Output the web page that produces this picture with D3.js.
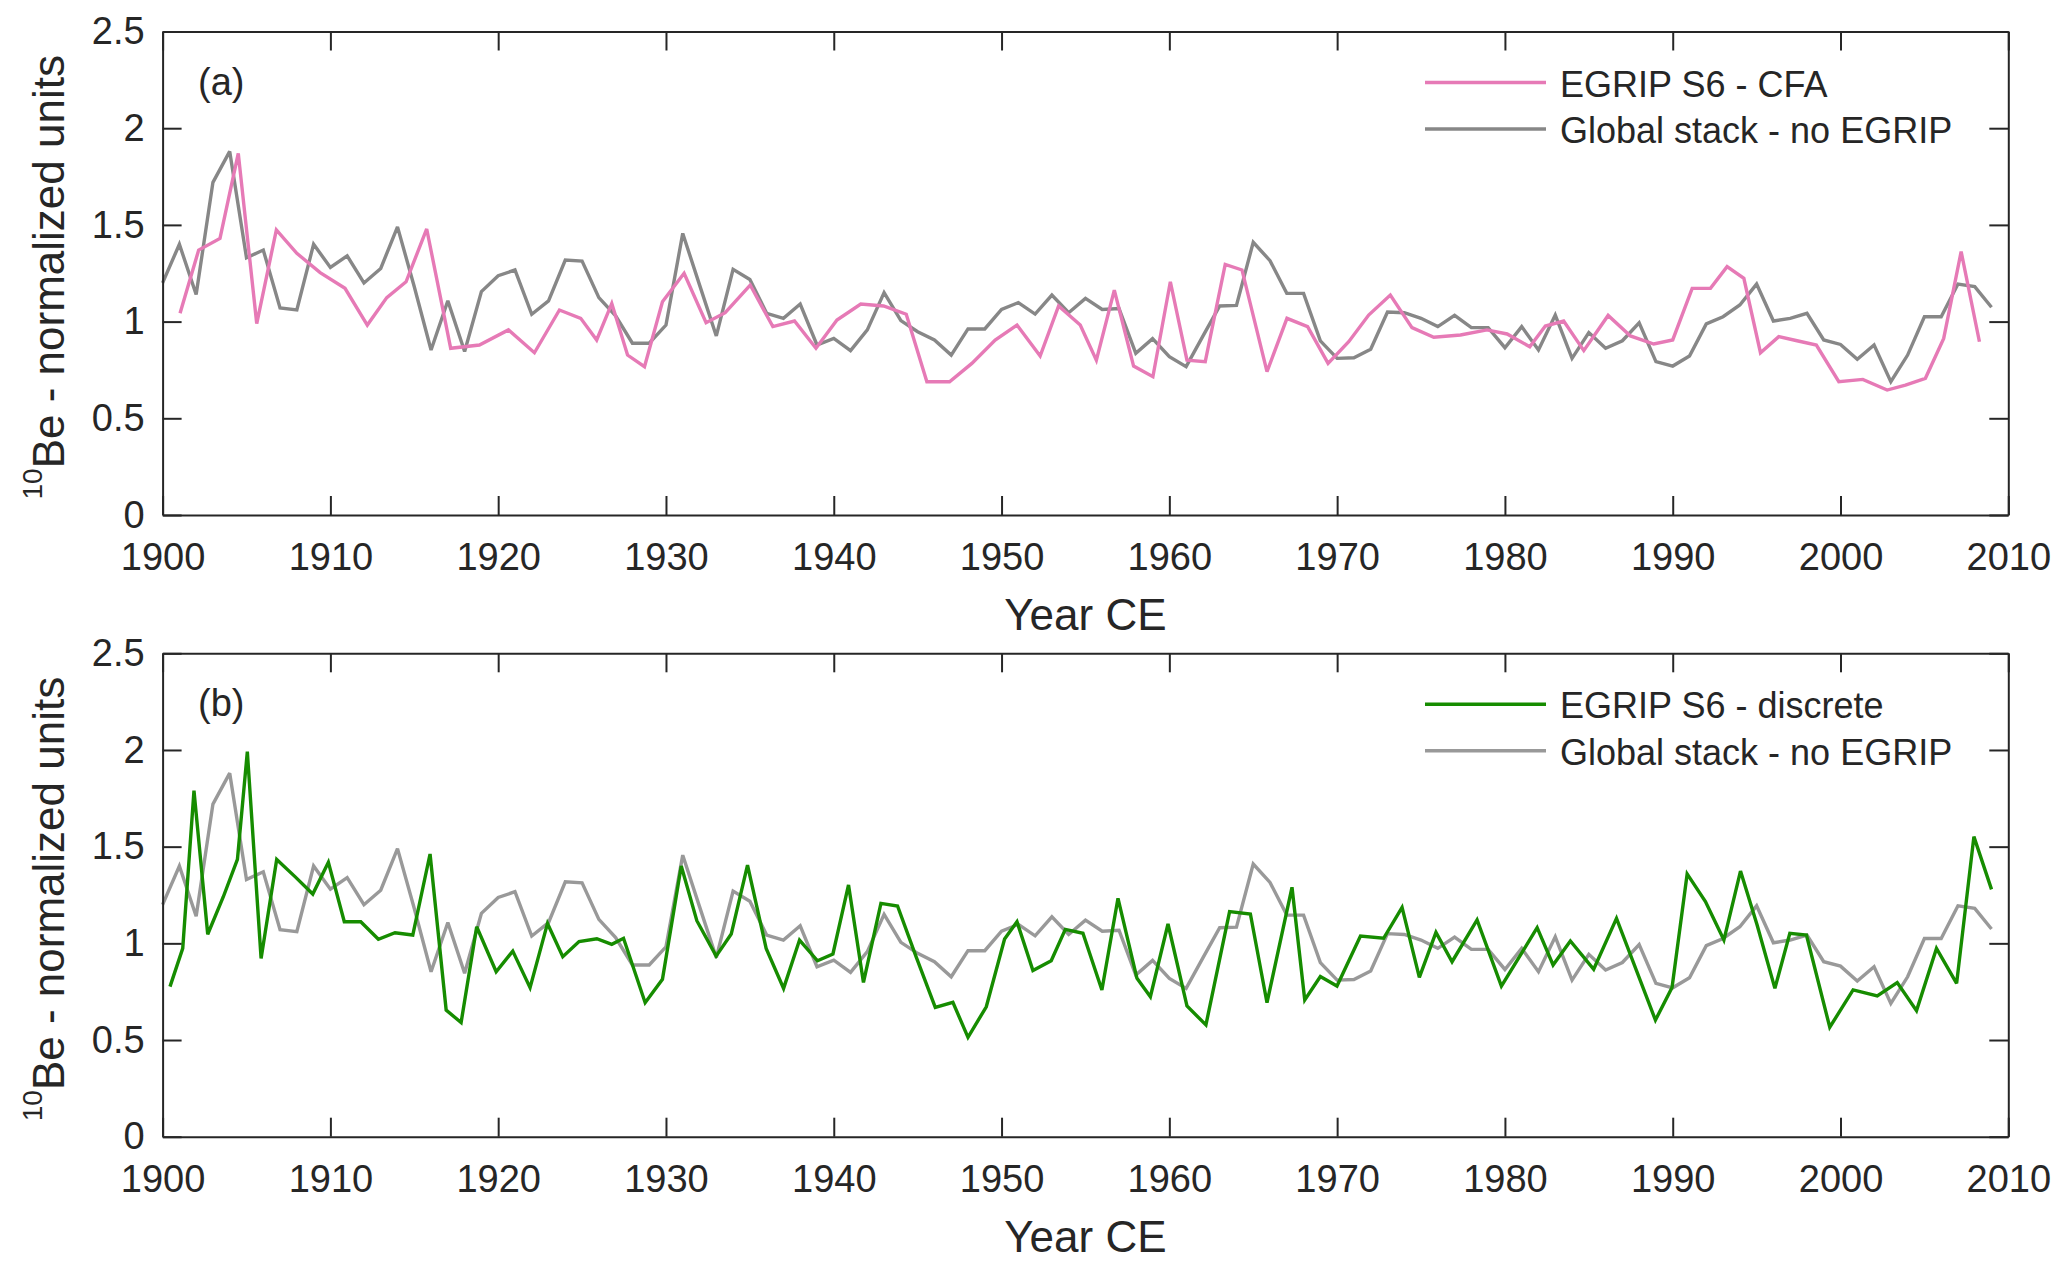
<!DOCTYPE html>
<html>
<head>
<meta charset="utf-8">
<script src="https://cdn.jsdelivr.net/npm/d3@7"></script>
<style>
  body { margin: 0; background: #fff; }
  text { font-family: "Liberation Sans", Arial, Helvetica, sans-serif; fill: #262626; }
</style>
</head>
<body>
<div class="chart"></div>
<script>
var svgWidth = 2067;
var svgHeight = 1271;

// Global stack (no EGRIP), one value per year, same in both panels
var stackYears = d3.range(1900, 2010);
var stackValues = [
  1.20, 1.40, 1.14, 1.72, 1.88, 1.33, 1.37, 1.07, 1.06, 1.40,
  1.28, 1.34, 1.20, 1.275, 1.49, 1.18, 0.853, 1.108, 0.845, 1.155,
  1.237, 1.267, 1.038, 1.107, 1.318, 1.313, 1.124, 1.03, 0.888, 0.888,
  0.982, 1.456, 1.19, 0.926, 1.27, 1.218, 1.043, 1.017, 1.091, 0.879,
  0.913, 0.85, 0.957, 1.15, 1.005, 0.948, 0.905, 0.827, 0.962, 0.962,
  1.063, 1.098, 1.039, 1.137, 1.046, 1.12, 1.063, 1.068, 0.836, 0.912,
  0.819, 0.767, 0.925, 1.081, 1.084, 1.41, 1.315, 1.146, 1.146, 0.9,
  0.81, 0.813, 0.857, 1.05, 1.046, 1.017, 0.974, 1.032, 0.969, 0.969,
  0.865, 0.974, 0.853, 1.034, 0.81, 0.943, 0.862, 0.901, 0.994, 0.793,
  0.77, 0.822, 0.988, 1.025, 1.086, 1.194, 1.003, 1.017, 1.043, 0.905,
  0.882, 0.805, 0.879, 0.689, 0.827, 1.025, 1.025, 1.194, 1.181, 1.074
];

// EGRIP S6 - CFA (own age scale)
var cfaYears = [
  1901.04, 1902.15, 1903.42, 1904.51, 1905.61, 1906.78, 1908.0, 1909.39, 1910.87, 1912.2,
  1913.36, 1914.51, 1915.74, 1917.17, 1918.88, 1920.61, 1922.16, 1923.65, 1924.92, 1925.87,
  1926.77, 1927.71, 1928.72, 1929.79, 1931.08, 1932.39, 1933.53, 1935.02, 1936.37, 1937.66,
  1938.94, 1940.19, 1941.61, 1942.97, 1944.32, 1945.55, 1946.9, 1948.23, 1949.62, 1950.92,
  1952.3, 1953.4, 1954.69, 1955.65, 1956.72, 1957.87, 1959.02, 1960.06, 1961.05, 1962.14,
  1963.33, 1964.33, 1965.82, 1967.01, 1968.24, 1969.46, 1970.69, 1971.88, 1973.17, 1974.46,
  1975.76, 1977.35, 1978.93, 1980.13, 1981.48, 1982.41, 1983.5, 1984.7, 1986.15, 1987.48,
  1988.87, 1990.0, 1991.16, 1992.25, 1993.24, 1994.24, 1995.23, 1996.32, 1997.41, 1998.56,
  1999.9, 2001.33, 2002.78, 2003.87, 2005.06, 2006.15, 2007.19, 2008.28
];
var cfaValues = [
  1.043, 1.37, 1.43, 1.87, 0.99, 1.474, 1.353, 1.253, 1.172, 0.982,
  1.124, 1.206, 1.479, 0.862, 0.879, 0.957, 0.839, 1.06, 1.017, 0.905,
  1.094, 0.827, 0.767, 1.103, 1.25, 0.994, 1.046, 1.189, 0.974, 1.003,
  0.862, 1.008, 1.091, 1.081, 1.038, 0.689, 0.689, 0.784, 0.905, 0.982,
  0.822, 1.081, 0.982, 0.801, 1.163, 0.77, 0.715, 1.206, 0.801, 0.793,
  1.296, 1.267, 0.741, 1.017, 0.974, 0.784, 0.896, 1.034, 1.137, 0.969,
  0.919, 0.931, 0.957, 0.936, 0.87, 0.977, 1.003, 0.85, 1.032, 0.926,
  0.884, 0.905, 1.172, 1.172, 1.284, 1.224, 0.839, 0.922, 0.901, 0.879,
  0.689, 0.701, 0.646, 0.672, 0.707, 0.913, 1.362, 0.896
];

// EGRIP S6 - discrete samples
var discYears = [
  1900.44, 1901.2, 1901.87, 1902.69, 1903.62, 1904.46, 1905.05, 1905.87, 1906.8, 1907.89,
  1908.95, 1909.88, 1910.83, 1911.81, 1912.86, 1913.85, 1914.91, 1915.94, 1916.9, 1917.79,
  1918.72, 1919.88, 1920.87, 1921.9, 1922.94, 1923.85, 1924.82, 1925.88, 1926.77, 1927.47,
  1928.76, 1929.79, 1930.91, 1931.84, 1932.99, 1933.89, 1934.86, 1935.97, 1937.01, 1937.96,
  1939.03, 1939.95, 1940.88, 1941.77, 1942.81, 1943.8, 1944.91, 1946.05, 1947.1, 1948.0,
  1949.09, 1950.18, 1950.92, 1951.87, 1952.96, 1953.8, 1954.85, 1955.98, 1956.94, 1958.07,
  1958.87, 1959.92, 1961.05, 1962.18, 1963.59, 1964.83, 1965.82, 1967.31, 1968.07, 1969.0,
  1969.99, 1971.39, 1972.77, 1973.87, 1974.9, 1975.89, 1976.85, 1978.34, 1979.79, 1981.92,
  1982.87, 1983.9, 1985.29, 1986.65, 1988.97, 1989.96, 1990.86, 1991.95, 1993.05, 1994.04,
  1995.03, 1996.09, 1996.98, 1997.97, 1999.36, 2000.75, 2002.19, 2003.38, 2004.53, 2005.72,
  2006.92, 2007.95, 2009.0
];
var discValues = [
  0.776, 0.974, 1.79, 1.047, 1.241, 1.434, 1.991, 0.922, 1.434, 1.345,
  1.255, 1.419, 1.112, 1.112, 1.021, 1.055, 1.043, 1.462, 0.655, 0.59,
  1.086, 0.853, 0.96, 0.771, 1.103, 0.931, 1.009, 1.024, 0.995, 1.026,
  0.693, 0.814, 1.4, 1.117, 0.934, 1.048, 1.405, 0.974, 0.767, 1.017,
  0.91, 0.945, 1.302, 0.798, 1.207, 1.193, 0.93, 0.669, 0.695, 0.514,
  0.672, 1.022, 1.112, 0.859, 0.91, 1.072, 1.052, 0.759, 1.233, 0.819,
  0.724, 1.1, 0.676, 0.578, 1.164, 1.152, 0.693, 1.29, 0.707, 0.828,
  0.779, 1.038, 1.026, 1.186, 0.824, 1.057, 0.905, 1.121, 0.779, 1.081,
  0.888, 1.012, 0.866, 1.129, 0.603, 0.772, 1.359, 1.216, 1.017, 1.374,
  1.095, 0.767, 1.052, 1.043, 0.566, 0.759, 0.728, 0.797, 0.652, 0.974,
  0.793, 1.552, 1.279
];

var xTicks = [1900, 1910, 1920, 1930, 1940, 1950, 1960, 1970, 1980, 1990, 2000, 2010];
var yTicks = [0, 0.5, 1, 1.5, 2, 2.5];

var panels = [
  { top: 31.5, bottom: 515, tag: "(a)",
    series: [
      { name: "EGRIP S6 - CFA", years: cfaYears, values: cfaValues, color: "#e67ab6" },
      { name: "Global stack - no EGRIP", years: stackYears, values: stackValues, color: "#878787" }
    ] },
  { top: 653.3, bottom: 1136.7, tag: "(b)",
    series: [
      { name: "EGRIP S6 - discrete", years: discYears, values: discValues, color: "#168c00" },
      { name: "Global stack - no EGRIP", years: stackYears, values: stackValues, color: "#999999" }
    ] }
];

var left = 162.6, right = 2008.3;
var axisColor = "#262626";

var svg = d3.select(".chart")
  .append("svg")
  .attr("width", svgWidth)
  .attr("height", svgHeight);

var xScale = d3.scaleLinear().domain([1900, 2010]).range([left, right]);

panels.forEach(function(p) {
  var yScale = d3.scaleLinear().domain([0, 2.5]).range([p.bottom, p.top]);
  var g = svg.append("g");

  // data lines, stack drawn first so the EGRIP series sits on top
  p.series.slice().reverse().forEach(function(s) {
    var pts = s.years.map(function(yr, i) { return [yr, s.values[i]]; });
    var line = d3.line()
      .x(function(d) { return xScale(d[0]); })
      .y(function(d) { return yScale(d[1]); });
    g.append("path")
      .datum(pts)
      .attr("d", line)
      .attr("fill", "none")
      .attr("stroke", s.color)
      .attr("stroke-width", 3.4)
      .attr("stroke-linejoin", "miter")
      .attr("stroke-miterlimit", 3);
  });

  // axes: a box with inward ticks on every side
  var tick = 19;
  var bottomAxis = d3.axisBottom(xScale).tickValues(xTicks).tickFormat(d3.format("d"))
    .tickSizeInner(-tick).tickSizeOuter(0).tickPadding(28);
  var topAxis = d3.axisTop(xScale).tickValues(xTicks).tickFormat("")
    .tickSizeInner(-tick).tickSizeOuter(0);
  var leftAxis = d3.axisLeft(yScale).tickValues(yTicks).tickFormat(d3.format("~g"))
    .tickSizeInner(-tick).tickSizeOuter(0).tickPadding(18);
  var rightAxis = d3.axisRight(yScale).tickValues(yTicks).tickFormat("")
    .tickSizeInner(-tick).tickSizeOuter(0);

  var axes = [
    g.append("g").attr("transform", "translate(0," + p.bottom + ")").call(bottomAxis),
    g.append("g").attr("transform", "translate(0," + p.top + ")").call(topAxis),
    g.append("g").attr("transform", "translate(" + left + ",0)").call(leftAxis),
    g.append("g").attr("transform", "translate(" + right + ",0)").call(rightAxis)
  ];
  axes.forEach(function(a) {
    a.select(".domain").attr("stroke", axisColor).attr("stroke-width", 2);
    a.selectAll(".tick line").attr("stroke", axisColor).attr("stroke-width", 2);
    a.selectAll(".tick text")
      .attr("fill", axisColor)
      .style("font-size", "38px")
      .style("font-family", "'Liberation Sans', Arial, Helvetica, sans-serif");
  });

  // panel tag
  g.append("text")
    .attr("x", 198)
    .attr("y", p.top + 63)
    .style("font-size", "38px")
    .text(p.tag);

  // x label
  g.append("text")
    .attr("x", (left + right) / 2)
    .attr("y", p.bottom + 115)
    .attr("text-anchor", "middle")
    .style("font-size", "44px")
    .text("Year CE");

  // y label with superscript
  var yl = g.append("text")
    .attr("transform", "translate(64," + ((p.top + p.bottom) / 2 + 4) + ") rotate(-90)")
    .attr("text-anchor", "middle")
    .style("font-size", "44px");
  yl.append("tspan").attr("dy", -22).style("font-size", "28px").text("10");
  yl.append("tspan").attr("dy", 22).text("Be - normalized units");

  // legend
  p.series.forEach(function(s, i) {
    var ly = p.top + 51 + i * 46.5;
    g.append("line")
      .attr("x1", 1425).attr("x2", 1546)
      .attr("y1", ly).attr("y2", ly)
      .attr("stroke", s.color)
      .attr("stroke-width", 3.4);
    g.append("text")
      .attr("x", 1560)
      .attr("y", ly + 14)
      .style("font-size", "36px")
      .text(s.name);
  });
});
</script>
</body>
</html>
